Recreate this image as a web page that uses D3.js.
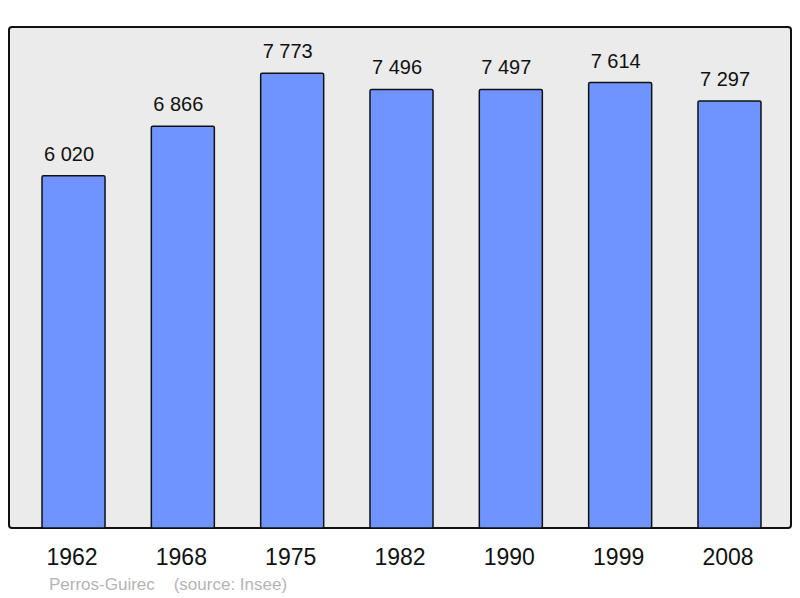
<!DOCTYPE html>
<html>
<head>
<meta charset="utf-8">
<script src="https://cdn.jsdelivr.net/npm/d3@7"></script>
<style>
  body { margin: 0; background: #fff; }
  svg { display: block; font-family: "Liberation Sans", Arial, sans-serif; }
</style>
</head>
<body>
<svg id="chart" width="800" height="598"></svg>
<script>
// population data (Insee)
var years = ["1962", "1968", "1975", "1982", "1990", "1999", "2008"];
var population = [6020, 6866, 7773, 7496, 7497, 7614, 7297];
var valueLabels = ["6 020", "6 866", "7 773", "7 496", "7 497", "7 614", "7 297"];
var townName = "Perros-Guirec";
var sourceText = "(source: Insee)";

var svg = d3.select("#chart");

// plot area
var panel = { left: 9, top: 27, right: 791, bottom: 528 };

svg.append("rect")
    .attr("x", panel.left)
    .attr("y", panel.top)
    .attr("width", panel.right - panel.left)
    .attr("height", panel.bottom - panel.top)
    .attr("rx", 3)
    .style("fill", "#ebebeb")
    .style("stroke", "#111")
    .style("stroke-width", "2px");

var gap = 0.4236;
var x = d3.scaleBand()
    .domain(years)
    .range([18.85, 784.15])
    .paddingInner(gap)
    .paddingOuter(gap / 2);

var y = d3.scaleLinear()
    .domain([0, 8564])
    .range([panel.bottom, panel.top]);

var bars = svg.append("g");

bars.selectAll("rect")
    .data(population)
    .enter().append("rect")
    .attr("x", function (d, i) { return x(years[i]); })
    .attr("y", function (d) { return y(d); })
    .attr("width", x.bandwidth())
    .attr("height", function (d) { return y(0) - y(d); })
    .attr("rx", 1.5)
    .style("fill", "#7094ff")
    .style("stroke", "#111")
    .style("stroke-width", "1.5px");

// value labels over bars (sit a little left of the bar centre, as in the original)
bars.selectAll("text")
    .data(population)
    .enter().append("text")
    .attr("x", function (d, i) { return x(years[i]) + x.bandwidth() / 2 - 4.5; })
    .attr("y", function (d) { return y(d) - 15; })
    .attr("text-anchor", "middle")
    .style("font-size", "20px")
    .style("fill", "#111")
    .text(function (d, i) { return valueLabels[i]; });

// year axis, no line or ticks
var xAxis = svg.append("g")
    .attr("transform", "translate(0," + panel.bottom + ")")
    .call(d3.axisBottom(x).tickSize(0).tickPadding(0));

xAxis.select(".domain").remove();
xAxis.selectAll("text")
    .attr("dy", null)
    .attr("y", 37)
    .attr("dx", -1.5)
    .style("font-family", "'Liberation Sans', Arial, sans-serif")
    .style("font-size", "23px")
    .style("fill", "#111");

// caption
svg.append("text")
    .attr("x", 49)
    .attr("y", 590)
    .style("font-size", "17px")
    .style("fill", "#b4b4b4")
    .attr("xml:space", "preserve")
    .text(townName + "    " + sourceText);
</script>
</body>
</html>
